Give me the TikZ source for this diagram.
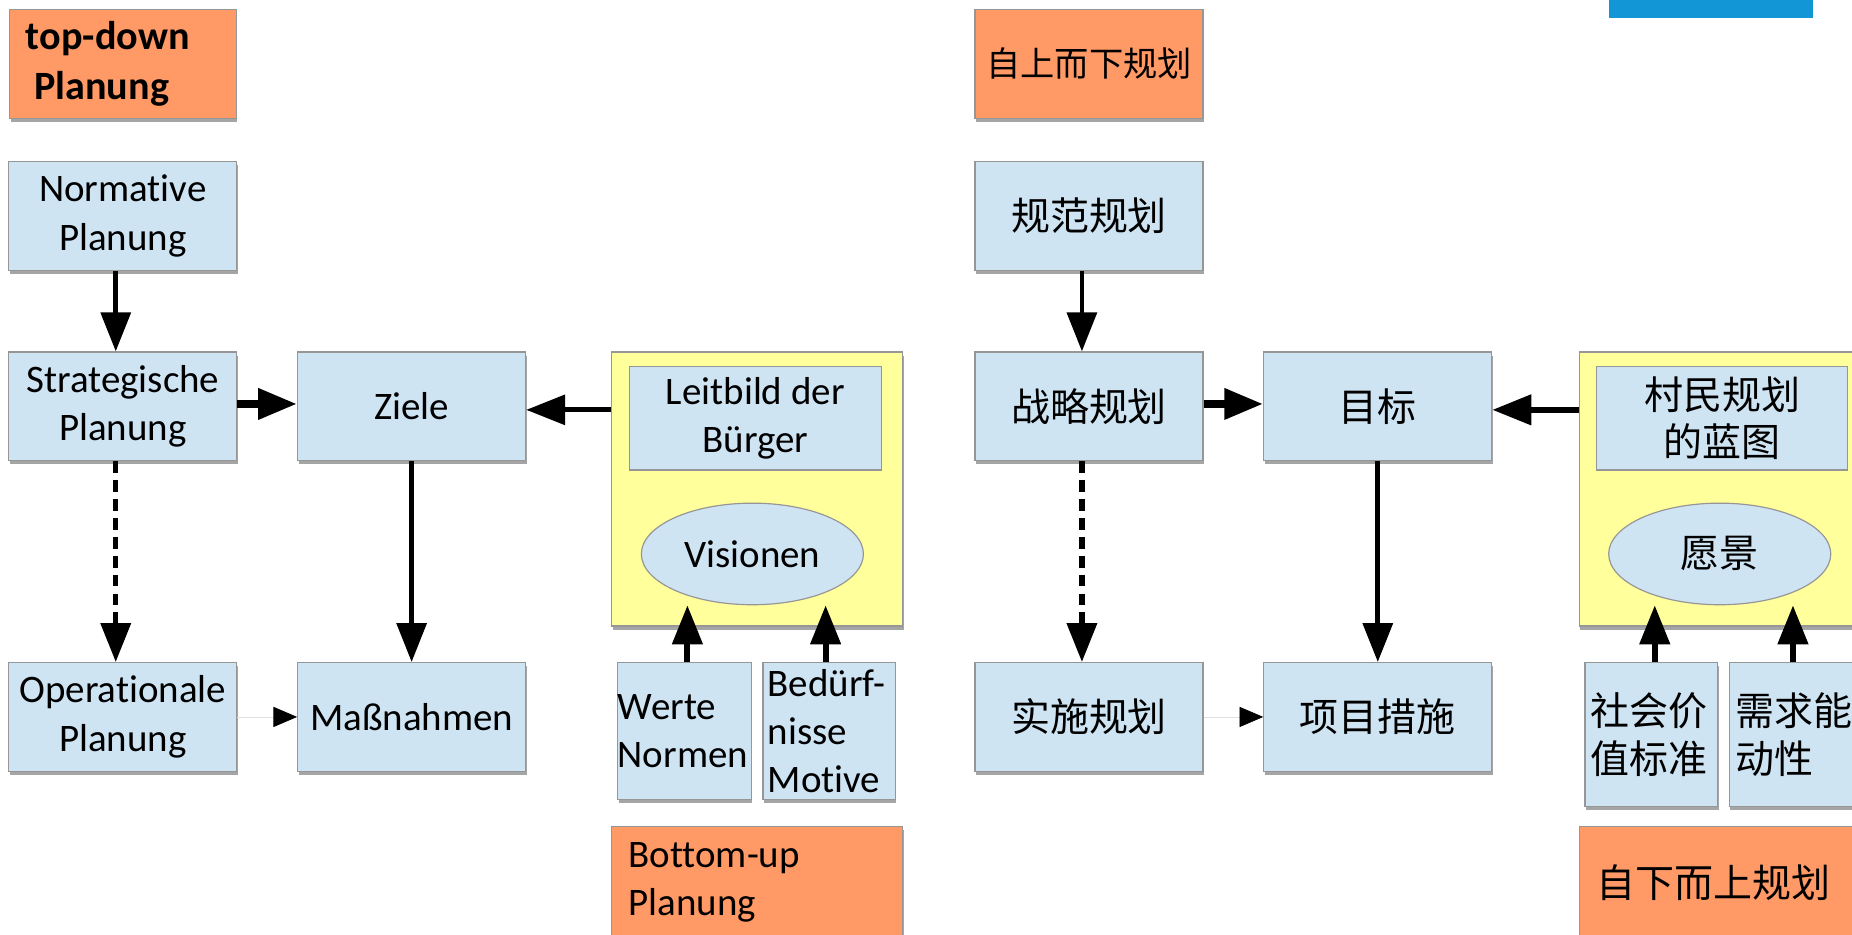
\documentclass[tikz,border=0pt]{standalone}
\usepackage{fontspec}
\setmainfont{Carlito}[Ligatures=NoCommon]
\newfontfamily\cjk{Noto Sans CJK SC}
\usetikzlibrary{arrows.meta,shapes.geometric,shadows}
\definecolor{boxblue}{RGB}{207,228,243}
\definecolor{orangefill}{RGB}{255,153,102}
\definecolor{yellowfill}{RGB}{255,255,155}
\definecolor{bordergrey}{RGB}{150,150,150}
\definecolor{shadowgrey}{RGB}{165,165,165}
\definecolor{topblue}{RGB}{18,150,214}
\newcommand\latfs{\fontsize{33}{41}\selectfont}
\newcommand\cjkfs{\cjk\fontsize{33}{40}\selectfont}
\tikzset{
  base/.style={draw=bordergrey, line width=1pt, inner sep=0pt, text=black, font=\latfs},
  shad/.style={drop shadow={shadow xshift=1pt, shadow yshift=-3pt, fill=shadowgrey, opacity=1}},
  bluebox/.style={base, shad, fill=boxblue, minimum width=193pt, minimum height=92pt, align=center},
  orangebox/.style={base, shad, fill=orangefill, minimum height=92pt},
  yellowbox/.style={base, shad, fill=yellowfill, minimum width=246pt, minimum height=232pt},
  innerbox/.style={base, fill=boxblue, minimum width=213pt, minimum height=88pt, align=center},
  smallbox/.style={base, shad, fill=boxblue, minimum width=112pt, align=left},
  vision/.style={base, ellipse, fill=boxblue, minimum width=188pt, minimum height=86pt},
  arr/.style={-{Triangle[length=33pt,width=25pt]}, line width=4pt, black},
  thickarr/.style={arr, line width=7pt},
  dasharr/.style={arr, line width=4.5pt, dash pattern=on 10pt off 6pt},
  faintarr/.style={-{Triangle[length=20pt,width=17pt,color=black]}, line width=0.6pt, black!12},
}
\begin{document}
\begin{tikzpicture}[x=1pt,y=-1pt]
\useasboundingbox (0,0) rectangle (1568,791);
\clip (0,0) rectangle (1568,791);
\fill[white] (0,0) rectangle (1568,791);
\fill[topblue] (1362,0) rectangle (1535,15);

% ---------- left (German) ----------
\node[orangebox, minimum width=192pt, text width=164pt, inner xsep=14pt, align=left, font=\fontsize{34}{42}\selectfont\bfseries] (td) at (104,54) {top-down\\\hspace*{7pt}Planung};
\node[bluebox] (nor) at (104,183) {Normative\\Planung};
\node[bluebox] (str) at (104,344) {Strategische\\Planung};
\node[bluebox] (ziele) at (348.5,344) {Ziele};
\node[bluebox] (op) at (104,607) {Operationale\\Planung};
\node[bluebox] (mass) at (348.5,607) {Maßnahmen};
\node[yellowbox] (yel) at (641,414) {};
\node[innerbox] (leit) at (639.5,354) {Leitbild der\\Bürger};
\node[vision] (vis) at (637,469) {Visionen};
\node[smallbox, minimum width=113pt, minimum height=116pt, text width=113pt] (werte) at (579.5,619) {Werte\\Normen};
\node[smallbox, minimum height=116pt, text width=104pt, inner xsep=4pt] (bed) at (702,619) {Bedürf-\\nisse\\Motive};
\node[orangebox, minimum width=246pt, minimum height=94pt, text width=218pt, inner xsep=14pt, align=left] (bu) at (641,747) {Bottom-up\\Planung};

\draw[arr] ([xshift=-6pt]nor.south) -- ([xshift=-6pt]str.north);
\draw[thickarr] ([yshift=2pt]str.east) -- ([yshift=2pt]ziele.west);
\draw[arr] ([yshift=-3pt]ziele.east -| yel.west) -- ([yshift=-3pt]ziele.east);
\draw[dasharr] ([xshift=-6pt]str.south) -- ([xshift=-6pt]op.north);
\draw[arr] (ziele.south) -- (mass.north);
\draw[faintarr] (op.east) -- (mass.west);
\draw[arr, line width=5pt] ([xshift=2.5pt]werte.north) -- ([xshift=2.5pt]werte.north |- vis.south);
\draw[arr, line width=5pt] ([xshift=-3pt]bed.north) -- ([xshift=-3pt]bed.north |- vis.south);

% ---------- right (Chinese) ----------
\node[orangebox, minimum width=193pt, font=\cjk\fontsize{29}{36}\selectfont] (td2) at (922,54) {自上而下规划};
\node[bluebox, font=\cjkfs] (nor2) at (922,183) {规范规划};
\node[bluebox, font=\cjkfs] (str2) at (922,344) {战略规划};
\node[bluebox, font=\cjkfs] (ziele2) at (1166.5,344) {目标};
\node[bluebox, font=\cjkfs] (op2) at (922,607) {实施规划};
\node[bluebox, font=\cjkfs] (mass2) at (1166.5,607) {项目措施};
\node[yellowbox] (yel2) at (1460,414) {};
\node[innerbox, font=\cjkfs] (leit2) at (1458,354) {村民规划\\的蓝图};
\node[vision, font=\cjkfs] (vis2) at (1456,469) {愿景};
\node[smallbox, minimum height=122pt, text width=102pt, inner xsep=5pt, font=\cjkfs] (werte2) at (1398,622) {社会价\\值标准};
\node[smallbox, minimum height=122pt, text width=102pt, inner xsep=5pt, font=\cjkfs] (bed2) at (1520,622) {需求能\\动性};
\node[orangebox, minimum width=246pt, minimum height=94pt, text width=216pt, inner xsep=15pt, align=left, font=\cjkfs] (bu2) at (1460,747) {自下而上规划};

\draw[arr] ([xshift=-6pt]nor2.south) -- ([xshift=-6pt]str2.north);
\draw[thickarr] ([yshift=2pt]str2.east) -- ([yshift=2pt]ziele2.west);
\draw[arr, line width=5pt] ([yshift=-3pt]ziele2.east -| yel2.west) -- ([yshift=-3pt]ziele2.east);
\draw[dasharr] ([xshift=-6pt]str2.south) -- ([xshift=-6pt]op2.north);
\draw[arr] (ziele2.south) -- (mass2.north);
\draw[faintarr] (op2.east) -- (mass2.west);
\draw[arr, line width=5pt] ([xshift=3pt]werte2.north) -- ([xshift=3pt]werte2.north |- vis2.south);
\draw[arr, line width=5pt] ([xshift=-2pt]bed2.north) -- ([xshift=-2pt]bed2.north |- vis2.south);
\end{tikzpicture}
\end{document}
